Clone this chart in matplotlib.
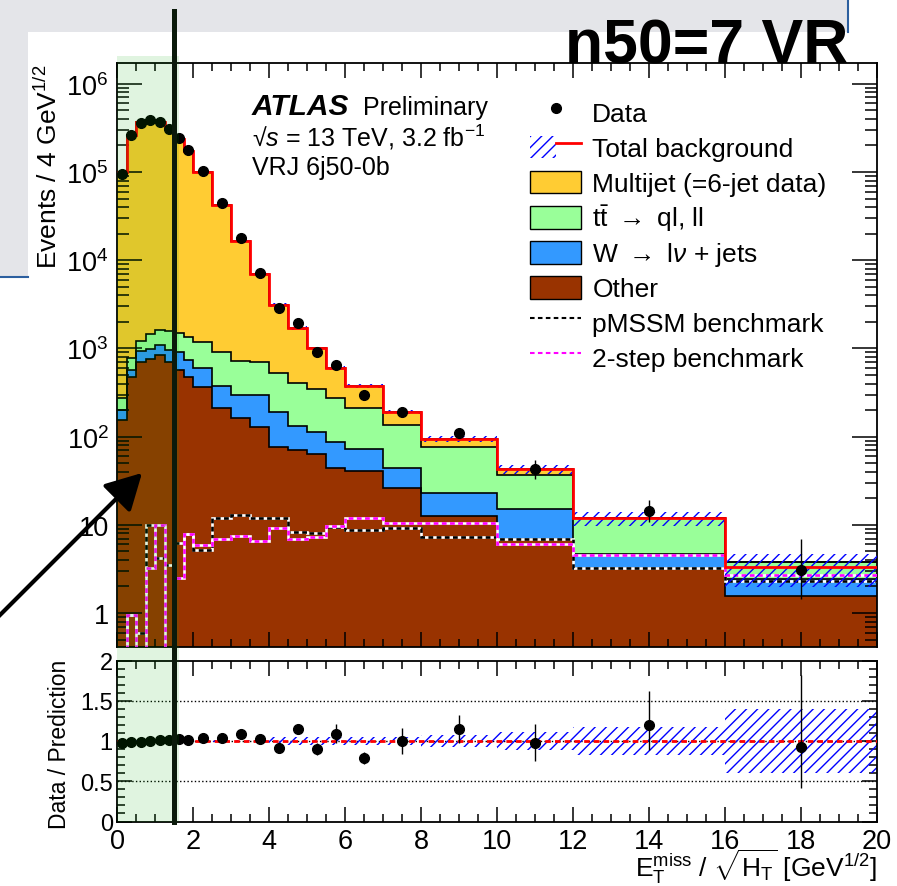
import numpy as np
import matplotlib.pyplot as plt
from matplotlib.patches import Rectangle, Patch, FancyArrowPatch
from matplotlib.lines import Line2D
from matplotlib.legend_handler import HandlerTuple, HandlerPatch
from matplotlib.ticker import MultipleLocator, LogLocator, FuncFormatter, NullFormatter

plt.rcParams['font.family'] = ['Liberation Sans', 'DejaVu Sans']
plt.rcParams['mathtext.fontset'] = 'custom'
plt.rcParams['mathtext.rm'] = 'Liberation Sans'
plt.rcParams['mathtext.it'] = 'Liberation Sans:italic'
plt.rcParams['mathtext.bf'] = 'Liberation Sans:bold'
plt.rcParams['hatch.linewidth'] = 1.0

# Binning (E_T^miss / sqrt(H_T))
edges = [0, 0.25, 0.5, 0.75, 1, 1.25, 1.5, 1.75, 2, 2.5, 3, 3.5, 4, 4.5, 5, 5.5, 6, 7, 8, 10, 12, 16, 20]

# Data
data = [9.5e4, 2.6e5, 3.6e5, 3.9e5, 3.7e5, 3.1e5, 2.4e5, 1.78e5, 1.02e5, 4.4e4, 1.8e4, 7.2e3,
        2.85e3, 1.94e3, 918, 653, 299, 192, 109, 43, 14.2, 3.1]
data_err_lo = [300, 500, 600, 620, 610, 560, 490, 420, 320, 210, 134, 85, 53, 44, 30, 26, 17, 14, 10, 10, 3.5, 1.65]
data_err_hi = [300, 500, 600, 620, 610, 560, 490, 420, 320, 210, 134, 85, 53, 44, 30, 26, 17, 14, 10, 11, 4.8, 3.9]

# Background components (stacked, bottom to top)
other = [155, 478, 695, 760, 841, 695, 574, 470, 363, 210, 161, 127, 77, 70, 63, 44, 41, 26, 12.7, 7.0, 3.2, 1.57]
wjets = [45, 91, 247, 225, 259, 271, 329, 275, 231, 168, 136, 170, 115, 61, 51, 43, 31, 18, 10.2, 8.1, 1.5, 0.86]
ttbar = [72, 204, 280, 471, 530, 619, 592, 591, 596, 540, 428, 398, 330, 274, 233, 185, 138, 91, 54, 22, 7.2, 1.33]
multijet = [98700, 259200, 363800, 388500, 363400, 303400, 235500, 172700, 97800, 41100, 15900, 6200,
            2580, 1285, 653, 323, 168, 54, 17, 6, 0, 0]
total_bkg = [9.9e4, 2.6e5, 3.65e5, 3.9e5, 3.65e5, 3.05e5, 2.37e5, 1.74e5, 9.9e4, 4.2e4, 1.66e4, 6.9e3,
             3.1e3, 1.69e3, 1.0e3, 595, 378, 189, 94, 43, 11.9, 3.3]
bkg_unc = [0.01, 0.01, 0.01, 0.01, 0.01, 0.01, 0.01, 0.01, 0.015, 0.015, 0.015, 0.015,
           0.05, 0.05, 0.05, 0.05, 0.05, 0.05, 0.072, 0.114, 0.176, 0.40]

# Signal benchmarks
pmssm = [0, 0.95, 0.6, 10, 4.2, 3.5, 6.2, 7.9, 5.2, 11.9, 12.9, 11.9, 11.9, 8.4, 8.0, 9.5, 8.7, 9.1, 7.2, 7.0, 3.2, 2.3]
twostep = [0, 0.95, 0, 3.2, 10, 0, 2.5, 7.9, 5.9, 7.0, 7.4, 6.5, 9.1, 6.9, 7.3, 9.8, 11.9, 10.4, 10.4, 6.1, 4.5, 2.7]

# Ratio panel
ratio = [0.971, 0.984, 0.991, 1.0, 1.012, 1.016, 1.025, 1.016, 1.037, 1.037, 1.083, 1.02,
         0.913, 1.153, 0.90, 1.09, 0.79, 1.0, 1.15, 0.98, 1.2, 0.92]
ratio_err_lo = [0.004, 0.003, 0.003, 0.003, 0.003, 0.003, 0.003, 0.003, 0.004, 0.006, 0.009, 0.015,
                0.06, 0.03, 0.08, 0.12, 0.07, 0.16, 0.17, 0.23, 0.31, 0.5]
ratio_err_hi = [0.004, 0.003, 0.003, 0.003, 0.003, 0.003, 0.003, 0.003, 0.004, 0.006, 0.009, 0.015,
                0.06, 0.03, 0.08, 0.12, 0.07, 0.16, 0.17, 0.23, 0.42, 0.9]

c_other = '#993300'
c_w = '#3399ff'
c_tt = '#99ff99'
c_mj = '#ffcc33'

W, H = 897, 887


def fx(px):
    return px / W


def fy(py):
    return 1 - py / H


fig = plt.figure(figsize=(8.97, 8.87), dpi=100)

# slide background behind the plot
fig.add_artist(Rectangle((0, fy(278)), fx(848), 278 / H, transform=fig.transFigure,
                         facecolor='#e4e5e9', lw=0, zorder=-3))
fig.add_artist(Rectangle((fx(28), 0), 1 - fx(28), fy(33), transform=fig.transFigure,
                         facecolor='white', lw=0, zorder=-2))
fig.add_artist(Line2D([0, fx(28)], [fy(278), fy(278)], transform=fig.transFigure, color='#2c5f9f', lw=1.5, zorder=-1))
fig.add_artist(Line2D([fx(848), fx(848)], [1, fy(33)], transform=fig.transFigure, color='#2c5f9f', lw=1.5, zorder=-1))

ax = fig.add_axes([fx(117), fy(648), 760 / W, 584 / H])
ax2 = fig.add_axes([fx(117), fy(822.5), 760 / W, 161 / H])

edges_a = np.array(edges)
centers = (edges_a[:-1] + edges_a[1:]) / 2

# Main panel: stacked backgrounds
ax.set_yscale('log', nonpositive='clip')
base = np.zeros(len(other))
for vals, col in [(other, c_other), (wjets, c_w), (ttbar, c_tt), (multijet, c_mj)]:
    top = base + np.array(vals)
    ax.stairs(top, edges, baseline=base, fill=True, facecolor=col, lw=0, zorder=1)
    ax.stairs(top, edges, baseline=None, color='black', lw=1.2, zorder=2)
    base = top

# signal benchmarks (dashed on white)
dash = (0, (1.8, 1.3))
for vals, col in [(pmssm, 'black'), (twostep, 'magenta')]:
    ax.stairs(vals, edges, baseline=None, color='white', lw=1.9, zorder=3)
    ax.stairs(vals, edges, baseline=None, color=col, lw=1.9, linestyle=dash, zorder=3)

# total background with uncertainty
tot = np.array(total_bkg)
unc = np.array(bkg_unc)
ax.stairs(tot * (1 + unc), edges, baseline=tot * (1 - unc), fill=True, facecolor='none',
          edgecolor='blue', hatch='///', lw=0, zorder=4)
ax.stairs(tot, edges, baseline=None, color='red', lw=2, zorder=5)

ax.errorbar(centers, data, yerr=[data_err_lo, data_err_hi], fmt='o', color='black', ms=7,
            elinewidth=1, capsize=0, zorder=6)

ax.set_xlim(0, 20)
ax.set_ylim(10 ** -0.385, 10 ** 6.236)


def log_label(v, pos):
    if v == 1:
        return '1'
    if v == 10:
        return '10'
    return r'$\mathregular{10^{%d}}$' % round(np.log10(v))


ax.yaxis.set_major_locator(LogLocator(base=10, numticks=20))
ax.yaxis.set_minor_locator(LogLocator(base=10, subs=np.arange(2, 10), numticks=20))
ax.yaxis.set_major_formatter(FuncFormatter(log_label))
ax.yaxis.set_minor_formatter(NullFormatter())
ax.xaxis.set_major_locator(MultipleLocator(2))
ax.xaxis.set_minor_locator(MultipleLocator(0.5))
ax.tick_params(which='both', direction='in', top=True, right=True, labelbottom=False,
               labelsize=19.5, width=1.1)
ax.tick_params(axis='y', which='major', length=18, pad=6)
ax.tick_params(axis='y', which='minor', length=8.6)
ax.tick_params(axis='x', which='major', length=10.8)
ax.tick_params(axis='x', which='minor', length=5.8)
for s in ax.spines.values():
    s.set_linewidth(1.3)


# Legend: rows 35 px apart, boxes 23 px tall
def short_box(legend, orig_handle, xdescent, ydescent, width, height, fontsize):
    h = 0.87 * fontsize
    return Rectangle((-xdescent, -ydescent + (height - h) / 2), width, h)


box = HandlerPatch(patch_func=short_box)
handles = [
    Line2D([], [], ls='none', marker='o', color='black', ms=7),
    (Patch(facecolor='none', edgecolor='blue', hatch='///', lw=0), Line2D([], [], color='red', lw=2)),
    Patch(facecolor=c_mj, edgecolor='black', lw=1),
    Patch(facecolor=c_tt, edgecolor='black', lw=1),
    Patch(facecolor=c_w, edgecolor='black', lw=1),
    Patch(facecolor=c_other, edgecolor='black', lw=1),
    Line2D([], [], color='black', ls=(0, (2.2, 1.6)), lw=1.5),
    Line2D([], [], color='magenta', ls=(0, (2.2, 1.6)), lw=1.5),
]
labels = ['Data', 'Total background', 'Multijet (=6-jet data)',
          r'$\mathregular{t\bar{t}}$ $\rightarrow$ ql, ll', r'W $\rightarrow$ l$\nu$ + jets',
          'Other', 'pMSSM benchmark', '2-step benchmark']
ax.legend(handles, labels, loc='upper left', bbox_to_anchor=(fx(530), fy(95.5)),
          bbox_transform=fig.transFigure, frameon=False, fontsize=19, handlelength=1.95,
          handleheight=1.664, handletextpad=0.41, labelspacing=0, borderpad=0,
          borderaxespad=0, handler_map={tuple: HandlerTuple(ndivide=None), Patch: box})

# ATLAS label
fig.text(fx(252), fy(115), 'ATLAS', fontsize=21.5, fontweight='bold', fontstyle='italic', va='baseline')
fig.text(fx(363), fy(115), 'Preliminary', fontsize=18, va='baseline')
fig.text(fx(252), fy(146), '\u221a$\\mathit{s}$ = 13 TeV, 3.2 fb$^{-1}$', fontsize=18, va='baseline')
fig.text(fx(252), fy(175), 'VRJ 6j50-0b', fontsize=18, va='baseline')

fig.text(fx(48), fy(65), r'Events / 4 GeV$^{1/2}$', fontsize=19, rotation=90, ha='center', va='top')

# Ratio panel
r_unc = np.array(bkg_unc)
ax2.stairs(1 + r_unc, edges, baseline=1 - r_unc, fill=True, facecolor='none', edgecolor='blue',
           hatch='///', lw=0, zorder=2)
for y in [0.5, 1.0, 1.5]:
    ax2.axhline(y, color='black', ls=':', lw=1, zorder=1)
ax2.axhline(1, color='red', ls=(0, (2, 1.5)), lw=2, zorder=3)
ax2.errorbar(centers, ratio, yerr=[ratio_err_lo, ratio_err_hi], fmt='o', color='black', ms=7,
             elinewidth=1, capsize=0, zorder=4)
ax2.set_xlim(0, 20)
ax2.set_ylim(0, 2)
ax2.set_yticks([0, 0.5, 1, 1.5, 2])
ax2.set_yticklabels(['0', '0.5', '1', '1.5', '2'])
ax2.yaxis.set_minor_locator(MultipleLocator(0.1))
ax2.xaxis.set_major_locator(MultipleLocator(2))
ax2.xaxis.set_minor_locator(MultipleLocator(0.5))
ax2.tick_params(which='both', direction='in', top=True, right=True, labelsize=19.5, width=1.1)
ax2.tick_params(axis='y', which='major', length=10.8, pad=3, labelsize=17)
ax2.tick_params(axis='y', which='minor', length=5.8)
ax2.tick_params(axis='x', which='major', length=10.8, pad=5)
ax2.tick_params(axis='x', which='minor', length=5.8)
for s in ax2.spines.values():
    s.set_linewidth(1.3)

fig.text(fx(60), fy(660), 'Data / Prediction', fontsize=16.5, rotation=90, ha='center', va='top')
fig.text(fx(877), fy(877),
         r'$\mathregular{E_{T}^{miss}}$ / $\sqrt{\mathregular{H_{T}}}$ [GeV$^{1/2}$]',
         fontsize=19, ha='right', va='baseline')

# Title
fig.text(fx(848), fy(63), 'n50=7 VR', fontsize=45, fontweight='bold', ha='right', va='baseline', zorder=8)

# Highlight overlay, marker line and arrow
fig.add_artist(Rectangle((fx(117), fy(823)), fx(179) - fx(117), (823 - 57) / H, transform=fig.transFigure,
                         facecolor=(0, 0.667, 0), alpha=0.12, lw=0, zorder=5))
fig.add_artist(Line2D([fx(174), fx(174)], [fy(12), fy(823)], transform=fig.transFigure,
                      color='#0b1a0b', lw=3.6, zorder=6))
fig.add_artist(FancyArrowPatch((fx(-10), fy(626)), (fx(144), fy(472)), transform=fig.transFigure,
                               arrowstyle='-|>,head_length=1.1,head_width=0.6', mutation_scale=20,
                               lw=3, color='black', zorder=7))

fig.savefig('out.png', dpi=100)
